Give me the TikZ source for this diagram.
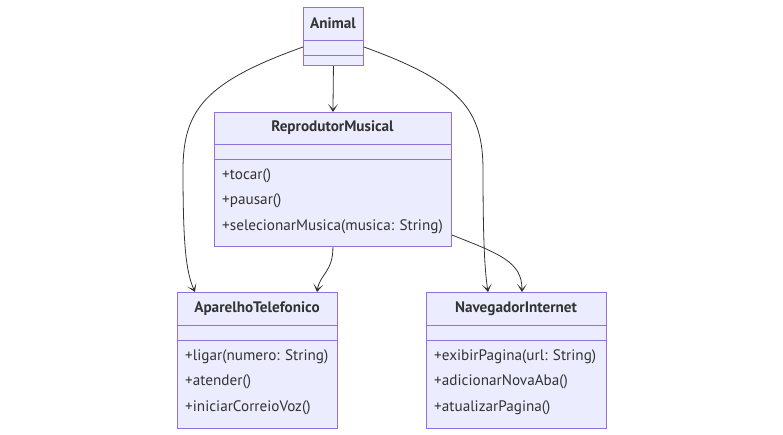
\documentclass[tikz,border=0pt]{standalone}
\usepackage{fontspec}
\setmainfont{PT Sans}
\usetikzlibrary{arrows.meta}
\definecolor{boxfill}{HTML}{ECECFF}
\definecolor{boxline}{HTML}{9370DB}
\definecolor{txt}{HTML}{333333}
\begin{document}
\begin{tikzpicture}[x=1pt,y=-1pt,
  cls/.style={draw=boxline, fill=boxfill, line width=0.9pt, inner sep=0pt, anchor=north west},
  divline/.style={draw=boxline, line width=0.9pt},
  title/.style={font=\fontsize{15.2}{17}\selectfont\bfseries, text=txt, inner sep=0pt},
  member/.style={font=\fontsize{15.2}{17}\selectfont, text=txt, inner sep=0pt, anchor=west},
  rel/.style={draw=txt, line width=0.8pt, -{Stealth[length=8pt,width=10pt,inset=5pt]}}
]
\useasboundingbox (0,0) rectangle (783,435);

% Animal
\node[cls, minimum width=60pt, minimum height=58pt] (animal) at (303,7) {};
\node[title] (animalT) at (333,23.5) {Animal};
\draw[divline] (303,40) -- (363,40);
\draw[divline] (303,55) -- (363,55);

% ReprodutorMusical
\node[cls, minimum width=237pt, minimum height=134pt] (rep) at (214,112) {};
\node[title] (repT) at (332.5,128) {ReprodutorMusical};
\draw[divline] (214,144) -- (451,144);
\draw[divline] (214,159) -- (451,159);
\node[member] (rep1) at (222,176) {+tocar()};
\node[member] (rep2) at (222,201) {+pausar()};
\node[member] (rep3) at (222,227) {+selecionarMusica(musica: String)};

% AparelhoTelefonico
\node[cls, minimum width=160pt, minimum height=136pt] (apa) at (177,292) {};
\node[title] (apaT) at (257,309) {AparelhoTelefonico};
\draw[divline] (177,325) -- (337,325);
\draw[divline] (177,340) -- (337,340);
\node[member] (apa1) at (185,357) {+ligar(numero: String)};
\node[member] (apa2) at (185,382) {+atender()};
\node[member] (apa3) at (185,408) {+iniciarCorreioVoz()};

% NavegadorInternet
\node[cls, minimum width=180pt, minimum height=136pt] (nav) at (426,292) {};
\node[title] (navT) at (516,309) {NavegadorInternet};
\draw[divline] (426,325) -- (606,325);
\draw[divline] (426,340) -- (606,340);
\node[member] (nav1) at (434,357) {+exibirPagina(url: String)};
\node[member] (nav2) at (434,382) {+adicionarNovaAba()};
\node[member] (nav3) at (434,408) {+atualizarPagina()};

% relations
\draw[rel] (animal.south) -- (rep.north);
\draw[rel] (animal.west |- 0,47) .. controls (205,82) and (183,110) .. (183,170)
   .. controls (183,245) and (186,272) .. (apa.north west -| 195,0);
\draw[rel] (animal.east |- 0,47) .. controls (461,82) and (483,110) .. (483,170)
   .. controls (483,245) and (485,272) .. (nav.north west -| 488,0);
\draw[rel] (rep.south) .. controls (333,272) and (320,274) .. (apa.north west -| 317,0);
\draw[rel] (rep.east |- 0,235) .. controls (500,254) and (522,262) .. (nav.north west -| 522,0);
\end{tikzpicture}
\end{document}
